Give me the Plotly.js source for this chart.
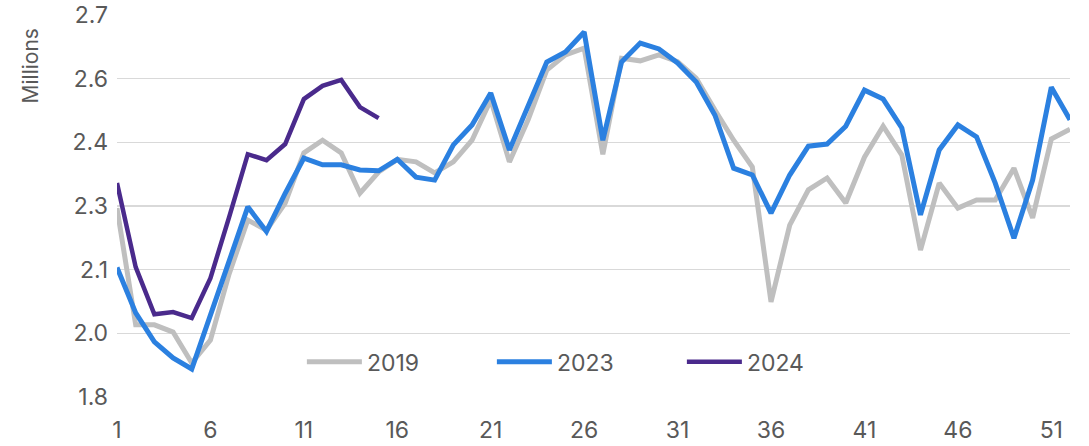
<!DOCTYPE html>
<html>
<head>
<meta charset="utf-8">
<script src="https://cdn.plot.ly/plotly-3.0.1.min.js"></script>
<style>html,body{margin:0;padding:0;background:#fff;}#chart{width:1089px;height:446px;}</style>
</head>
<body>
<div id="chart"></div>
<script>
const weeks = Array.from({length: 52}, (_, i) => i + 1);
const weeks2024 = weeks.slice(0, 15);

const values2019 = [2.245, 1.970, 1.970, 1.953, 1.880, 1.934, 2.090, 2.217, 2.193, 2.257,
  2.375, 2.405, 2.375, 2.280, 2.330, 2.360, 2.354, 2.328, 2.354, 2.405,
  2.500, 2.354, 2.453, 2.570, 2.606, 2.622, 2.372, 2.598, 2.592, 2.606,
  2.590, 2.551, 2.476, 2.405, 2.342, 2.024, 2.205, 2.288, 2.316, 2.257,
  2.365, 2.438, 2.370, 2.146, 2.304, 2.245, 2.264, 2.264, 2.339, 2.222,
  2.408, 2.431];

const values2023 = [2.105, 1.998, 1.930, 1.892, 1.866, 1.990, 2.120, 2.248, 2.190, 2.280,
  2.363, 2.347, 2.347, 2.335, 2.333, 2.360, 2.318, 2.311, 2.394, 2.441,
  2.516, 2.382, 2.488, 2.589, 2.613, 2.660, 2.405, 2.589, 2.634, 2.620,
  2.587, 2.542, 2.464, 2.339, 2.323, 2.233, 2.323, 2.391, 2.396, 2.438,
  2.523, 2.502, 2.434, 2.229, 2.382, 2.441, 2.413, 2.304, 2.174, 2.311,
  2.530, 2.453];

const values2024 = [2.304, 2.106, 1.995, 2.000, 1.986, 2.080, 2.224, 2.372, 2.358, 2.396,
  2.502, 2.533, 2.547, 2.483, 2.457];

const yTickVals = [1.8, 1.95, 2.1, 2.25, 2.4, 2.55, 2.7];
const yTickText = ['1.8', '2.0', '2.1', '2.3', '2.4', '2.6', '2.7'];
const xTickVals = [1, 6, 11, 16, 21, 26, 31, 36, 41, 46, 51];
const seriesNames = ['2019', '2023', '2024'];
const axisTitle = 'Millions';

const FONT = 'Inter, Roboto, "Noto Sans", sans-serif';
const TXT = '#595959';

const traces = [
  {x: weeks, y: values2019, name: seriesNames[0], type: 'scatter', mode: 'lines',
   line: {color: '#BFBFBF', width: 5}},
  {x: weeks, y: values2023, name: seriesNames[1], type: 'scatter', mode: 'lines',
   line: {color: '#2B80E0', width: 5}},
  {x: weeks2024, y: values2024, name: seriesNames[2], type: 'scatter', mode: 'lines',
   line: {color: '#4A2A8C', width: 4.5}}
];

const layout = {
  width: 1089, height: 446,
  margin: {l: 117, r: 19, t: 15, b: 49},
  paper_bgcolor: '#fff', plot_bgcolor: '#fff',
  font: {family: FONT, size: 23, color: TXT},
  showlegend: true,
  legend: {orientation: 'h', x: 0.194, y: 0.092, xanchor: 'left', yanchor: 'middle',
    font: {family: FONT, size: 23, color: TXT}, bgcolor: 'rgba(0,0,0,0)',
    entrywidth: 120, entrywidthmode: 'pixels', itemwidth: 55, traceorder: 'normal'},
  xaxis: {range: [1, 52], tickvals: xTickVals, showgrid: false, zeroline: false,
    showline: false, ticks: '', automargin: false, ticklabelstandoff: 17,
    tickfont: {family: FONT, size: 23, color: TXT}},
  yaxis: {range: [1.8, 2.7], tickvals: yTickVals, ticktext: yTickText,
    showgrid: true, gridcolor: '#D9D9D9', gridwidth: 1.5, zeroline: false,
    showline: false, ticks: '', ticklabelstandoff: 8, automargin: false,
    tickfont: {family: FONT, size: 23, color: TXT}},
  annotations: [{text: axisTitle, textangle: -90, xref: 'paper', yref: 'paper',
    x: -0.091, y: 0.866, xanchor: 'center', yanchor: 'middle', showarrow: false,
    font: {family: FONT, size: 21, color: TXT}}]
};

Plotly.newPlot('chart', traces, layout, {displayModeBar: false, staticPlot: true});
</script>
</body>
</html>
